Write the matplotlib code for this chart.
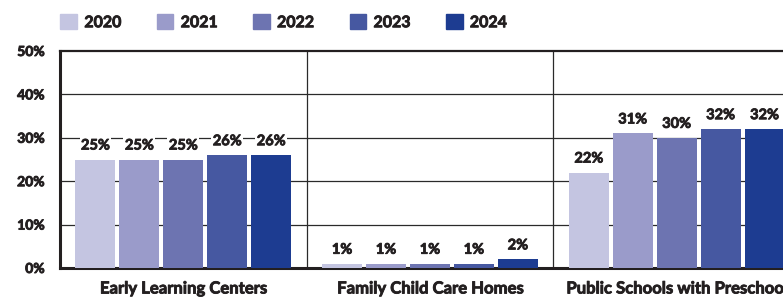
import matplotlib
matplotlib.use("Agg")
import matplotlib.pyplot as plt
import matplotlib.patheffects as pe
import numpy as np
from matplotlib.patches import Rectangle

categories = ["Early Learning Centers", "Family Child Care Homes", "Public Schools with Preschool"]
years = ["2020", "2021", "2022", "2023", "2024"]
values = {
    "2020": [25, 1, 22],
    "2021": [25, 1, 31],
    "2022": [25, 1, 30],
    "2023": [26, 1, 32],
    "2024": [26, 2, 32],
}
colors = ["#C4C5E1", "#9A9BCA", "#6D74B1", "#4658A1", "#1D3C91"]
yticks = [0, 10, 20, 30, 40, 50]

plt.rcParams['font.family'] = ['Lato', 'DejaVu Sans']
txt = "#231F20"
W = "bold"
thick = [pe.withStroke(linewidth=0.6, foreground=txt)]

fig = plt.figure(figsize=(7.83, 3.0), dpi=100)
ax = fig.add_axes([60/783, 32/300, 740/783, 217/300])

pitch = 44/247
width = 40/247
x = np.arange(len(categories)) + 0.5
for i, yr in enumerate(years):
    pos = x + (i - 2) * pitch
    bars = ax.bar(pos, values[yr], width=width, color=colors[i], zorder=3)
    for b, v in zip(bars, values[yr]):
        ax.text(b.get_x() + b.get_width()/2, v + 1.6, f"{v}%", ha="center", va="bottom",
                fontsize=10.5, fontweight=W, color=txt, zorder=4, path_effects=thick,
                bbox=dict(facecolor="white", edgecolor="none", pad=1.0))

ax.set_xlim(0, 3)
ax.set_ylim(0, 50)
ax.set_yticks(yticks)
ax.set_yticklabels([f"{t}%" for t in yticks], fontsize=10, fontweight=W, color=txt)
for t in [10, 20, 30, 40]:
    ax.axhline(t, color="#2a2a2a", lw=0.9, zorder=1)
for s in [1, 2]:
    ax.axvline(s, color="#2a2a2a", lw=0.9, zorder=1)
ax.set_xticks(x)
ax.set_xticklabels(categories, fontsize=12, fontweight=W, color=txt)
ax.tick_params(axis="x", length=0, pad=9)
ax.tick_params(axis="y", length=0, pad=11)
for lab in ax.get_xticklabels() + ax.get_yticklabels():
    lab.set_path_effects(thick)
ax.spines["left"].set_linewidth(2.2)
ax.spines["bottom"].set_linewidth(2.2)
ax.spines["top"].set_linewidth(1.6)
for sp in ["left", "bottom", "top"]:
    ax.spines[sp].set_color("#231F20")
ax.spines["right"].set_visible(False)

# legend
handles = [Rectangle((0, 0), 1, 1, color=c) for c in colors]
leg = fig.legend(handles, years, loc="upper left", bbox_to_anchor=(46/783, 1.0), ncol=5,
                 frameon=False, prop={"weight": W, "size": 11.5},
                 handlelength=1.05, handleheight=1.05, handletextpad=0.45, columnspacing=2.2)
for t in leg.get_texts():
    t.set_color(txt)
    t.set_path_effects(thick)

fig.savefig("out.png", dpi=100)
